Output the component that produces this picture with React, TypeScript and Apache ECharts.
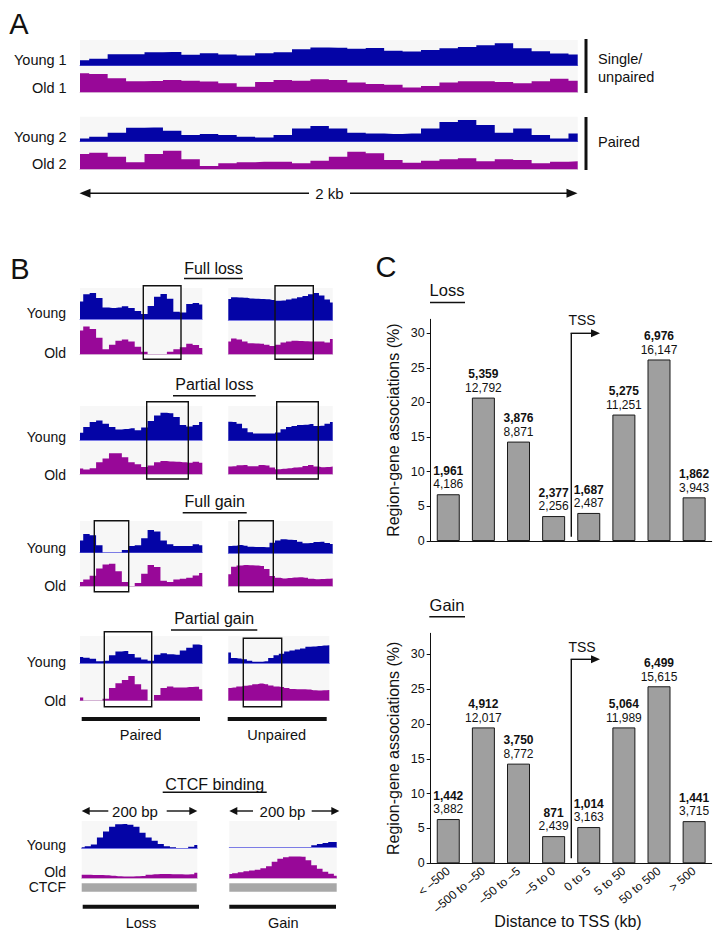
import React, { useEffect, useRef } from "react";
import * as echarts from "echarts";

// ---------- Panel C data ----------
const categories = ["< \u2013500", "\u2013500 to \u201350", "\u201350 to \u20135", "\u20135 to 0", "0 to 5", "5 to 50", "50 to 500", "> 500"];
const lossPercent = [6.75, 20.7, 14.35, 3.6, 4.05, 18.25, 26.2, 6.3];
const lossRegions = ["1,961", "5,359", "3,876", "2,377", "1,687", "5,275", "6,976", "1,862"];
const lossGenes = ["4,186", "12,792", "8,871", "2,256", "2,487", "11,251", "16,147", "3,943"];
const gainPercent = [6.35, 19.5, 14.3, 3.9, 5.2, 19.5, 25.4, 6.05];
const gainRegions = ["1,442", "4,912", "3,750", "871", "1,014", "5,064", "6,499", "1,441"];
const gainGenes = ["3,882", "12,017", "8,772", "2,439", "3,163", "11,989", "15,615", "3,715"];
const yTicks = [0, 5, 10, 15, 20, 25, 30];

// ---------- Panel A coverage (relative signal, %) ----------
const young1 = [21, 27, 45, 45, 52, 53, 43, 48, 44, 40, 48, 52, 64, 71, 70, 66, 69, 58, 55, 61, 68, 73, 80, 87, 68, 56, 47, 44];
const old1 = [74, 71, 55, 43, 44, 48, 45, 42, 35, 22, 40, 48, 45, 51, 48, 38, 32, 29, 19, 25, 38, 43, 43, 40, 35, 43, 53, 45];
const young2 = [13, 20, 36, 56, 57, 44, 27, 31, 27, 20, 17, 27, 53, 63, 53, 36, 33, 31, 33, 53, 79, 87, 67, 36, 53, 27, 13, 33];
const old2 = [60, 65, 49, 27, 60, 73, 39, 12, 23, 27, 29, 29, 23, 33, 49, 69, 63, 36, 25, 33, 39, 43, 31, 39, 36, 23, 29, 31];

// ---------- Panel B coverage ----------
const fullLossPairedYoung = [60, 85, 90, 72, 40, 38, 40, 44, 38, 28, 17, 45, 77, 86, 70, 25, 22, 52, 55, 50];
const fullLossPairedOld = [75, 88, 80, 52, 16, 30, 43, 47, 40, 24, 8, 0, 0, 0, 8, 16, 22, 33, 29, 20];
const fullLossUnpairedYoung = [70, 76, 75, 74, 72, 71, 70, 69, 67, 64, 65, 68, 72, 76, 80, 86, 90, 82, 68, 58];
const fullLossUnpairedOld = [40, 50, 47, 40, 35, 34, 33, 30, 26, 30, 37, 40, 43, 42, 41, 40, 40, 40, 37, 48];
const partialLossPairedYoung = [22, 40, 55, 60, 50, 40, 32, 34, 36, 30, 38, 58, 75, 83, 82, 70, 46, 41, 46, 55];
const partialLossPairedOld = [17, 14, 18, 36, 48, 64, 64, 52, 36, 30, 22, 26, 36, 40, 39, 38, 36, 35, 38, 35];
const partialLossUnpairedYoung = [58, 57, 52, 38, 26, 22, 22, 22, 22, 25, 35, 42, 45, 48, 49, 51, 45, 46, 52, 57];
const partialLossUnpairedOld = [23, 24, 27, 28, 24, 24, 28, 26, 20, 15, 16, 18, 20, 21, 25, 28, 23, 21, 22, 23];
const fullGainPairedYoung = [40, 62, 58, 25, 0, 0, 0, 9, 22, 25, 48, 75, 70, 40, 28, 22, 22, 22, 28, 25];
const fullGainPairedOld = [14, 22, 35, 60, 73, 76, 50, 14, 0, 10, 42, 72, 65, 18, 14, 22, 25, 28, 36, 44];
const fullGainUnpairedYoung = [24, 25, 27, 25, 22, 21, 21, 20, 35, 42, 46, 45, 44, 38, 33, 34, 37, 38, 34, 31];
const fullGainUnpairedOld = [40, 66, 70, 72, 71, 70, 68, 58, 34, 28, 26, 27, 29, 30, 28, 25, 23, 24, 25, 26];
const partialGainPairedYoung = [24, 21, 17, 8, 10, 30, 44, 46, 35, 22, 14, 10, 32, 38, 34, 32, 48, 58, 70, 68];
const partialGainPairedOld = [10, 0, 0, 0, 6, 40, 55, 65, 78, 52, 35, 0, 18, 40, 45, 42, 42, 43, 44, 36];
const partialGainUnpairedYoung = [40, 20, 18, 15, 10, 6, 6, 8, 20, 30, 36, 44, 48, 52, 55, 62, 63, 65, 67, 68];
const partialGainUnpairedOld = [40, 42, 45, 47, 49, 52, 54, 52, 48, 45, 43, 40, 37, 36, 36, 35, 33, 32, 33, 34];
const ctcfLossYoung = [4, 8, 14, 40, 63, 81, 90, 91, 88, 81, 58, 40, 28, 16, 8, 4, 0, 0, 6, 12];
const ctcfLossOld = [14, 14, 13, 13, 12, 10, 8, 7, 7, 8, 9, 14, 16, 17, 17, 16, 16, 15, 16, 22];
const ctcfGainYoung = [0, 0, 0, 0, 0, 0, 0, 0, 0, 0, 0, 0, 0, 0, 0, 8, 12, 16, 20, 20];
const ctcfGainOld = [17, 20, 24, 28, 31, 34, 40, 48, 66, 78, 84, 87, 87, 86, 72, 52, 38, 26, 18, 10];

const FONT = "'Liberation Sans', Arial, Helvetica, sans-serif";
const BLUE = "#0404a6";
const PURPLE = "#980898";
const BG = "#f7f7f7";

type Track = { data: number[]; x1: number; x2: number; top: number; base: number; scale: number; kind: "y" | "o" };

const AX1 = 80, AX2 = 577.7;
const BL1 = 80, BL2 = 202.3, BR1 = 228.3, BR2 = 332.7;

const tracks: Track[] = [
  { data: young1, x1: AX1, x2: AX2, top: 40, base: 65.7, scale: 25.7, kind: "y" },
  { data: old1, x1: AX1, x2: AX2, top: 65.7, base: 92.3, scale: 25.7, kind: "o" },
  { data: young2, x1: AX1, x2: AX2, top: 116.7, base: 141.7, scale: 25, kind: "y" },
  { data: old2, x1: AX1, x2: AX2, top: 141.7, base: 169, scale: 25, kind: "o" },

  { data: fullLossPairedYoung, x1: BL1, x2: BL2, top: 288, base: 319, scale: 29, kind: "y" },
  { data: fullLossPairedOld, x1: BL1, x2: BL2, top: 319, base: 354.3, scale: 31.7, kind: "o" },
  { data: fullLossUnpairedYoung, x1: BR1, x2: BR2, top: 288, base: 320, scale: 30, kind: "y" },
  { data: fullLossUnpairedOld, x1: BR1, x2: BR2, top: 320, base: 354.3, scale: 31.7, kind: "o" },

  { data: partialLossPairedYoung, x1: BL1, x2: BL2, top: 406, base: 440, scale: 32.7, kind: "y" },
  { data: partialLossPairedOld, x1: BL1, x2: BL2, top: 440, base: 474, scale: 32.3, kind: "o" },
  { data: partialLossUnpairedYoung, x1: BR1, x2: BR2, top: 406, base: 440.7, scale: 32.7, kind: "y" },
  { data: partialLossUnpairedOld, x1: BR1, x2: BR2, top: 440.7, base: 474, scale: 32.3, kind: "o" },

  { data: fullGainPairedYoung, x1: BL1, x2: BL2, top: 521, base: 552.7, scale: 30.3, kind: "y" },
  { data: fullGainPairedOld, x1: BL1, x2: BL2, top: 552.7, base: 586, scale: 29.3, kind: "o" },
  { data: fullGainUnpairedYoung, x1: BR1, x2: BR2, top: 521, base: 553.3, scale: 30.3, kind: "y" },
  { data: fullGainUnpairedOld, x1: BR1, x2: BR2, top: 553.3, base: 586, scale: 29.3, kind: "o" },

  { data: partialGainPairedYoung, x1: BL1, x2: BL2, top: 636, base: 663.3, scale: 26.7, kind: "y" },
  { data: partialGainPairedOld, x1: BL1, x2: BL2, top: 663.3, base: 700.7, scale: 31.7, kind: "o" },
  { data: partialGainUnpairedYoung, x1: BR1, x2: 329.3, top: 636, base: 663.3, scale: 26.7, kind: "y" },
  { data: partialGainUnpairedOld, x1: BR1, x2: 329.3, top: 663.3, base: 700.7, scale: 31.7, kind: "o" },

  { data: ctcfLossYoung, x1: 81.7, x2: 197.3, top: 821, base: 848.3, scale: 26.7, kind: "y" },
  { data: ctcfLossOld, x1: 81.7, x2: 197.3, top: 848.3, base: 878.3, scale: 25, kind: "o" },
  { data: ctcfGainYoung, x1: 229.3, x2: 336.7, top: 821, base: 847.3, scale: 26.7, kind: "y" },
  { data: ctcfGainOld, x1: 229.3, x2: 336.7, top: 847.3, base: 878.3, scale: 25, kind: "o" },
];

function txt(x: number, y: number, text: string, size: number, align = "center", weight = "normal") {
  return {
    type: "text", x, y, z: 100, silent: true,
    style: { text, fontSize: size, fontFamily: FONT, fontWeight: weight, fill: "#111", align, verticalAlign: "middle" },
  };
}
function ln(x1: number, y1: number, x2: number, y2: number, w = 1.3, color = "#111") {
  return { type: "line", z: 100, silent: true, shape: { x1, y1, x2, y2 }, style: { stroke: color, lineWidth: w } };
}
function box(x1: number, y1: number, x2: number, y2: number) {
  return { type: "rect", z: 100, silent: true, shape: { x: x1, y: y1, width: x2 - x1, height: y2 - y1 }, style: { fill: "transparent", stroke: "#111", lineWidth: 1.4 } };
}
function fillRect(x1: number, y1: number, x2: number, y2: number, color: string) {
  return { type: "rect", z: 100, silent: true, shape: { x: x1, y: y1, width: x2 - x1, height: y2 - y1 }, style: { fill: color } };
}
function head(tx: number, ty: number, dir: "l" | "r", len = 10, hw = 4) {
  const bx = dir === "r" ? tx - len : tx + len;
  return { type: "polygon", z: 100, silent: true, shape: { points: [[tx, ty], [bx, ty - hw], [bx, ty + hw]] }, style: { fill: "#111" } };
}

function buildOption() {
  const grid: any[] = [];
  const xAxis: any[] = [];
  const yAxis: any[] = [];
  const series: any[] = [];

  tracks.forEach((t, i) => {
    grid.push({ left: t.x1, width: t.x2 - t.x1, top: t.top, height: t.base - t.top, show: true, backgroundColor: BG, borderWidth: 0 });
    xAxis.push({
      gridIndex: i, type: "category", boundaryGap: false, data: t.data.map((_, k) => k),
      axisLine: { show: true, lineStyle: { color: t.kind === "y" ? "#7c7ce6" : "#d4b4d4", width: 1 } },
      axisTick: { show: false }, axisLabel: { show: false }, splitLine: { show: false },
    });
    yAxis.push({ gridIndex: i, type: "value", min: 0, max: (100 * (t.base - t.top)) / t.scale, show: false });
    series.push({
      type: "line", xAxisIndex: i, yAxisIndex: i, data: t.data, step: "middle", symbol: "none", silent: true,
      lineStyle: { width: 0, color: t.kind === "y" ? BLUE : PURPLE },
      areaStyle: { color: t.kind === "y" ? BLUE : PURPLE, opacity: 1 },
    });
  });

  const addBars = (top: number, height: number, max: number, pct: number[], regions: string[], genes: string[], showCat: boolean) => {
    const gi = grid.length;
    grid.push({ left: 430.7, width: 281, top, height, show: false });
    xAxis.push({
      gridIndex: gi, type: "category", data: categories,
      axisLine: { show: true, lineStyle: { color: "#111", width: 1 } },
      axisTick: { show: false },
      axisLabel: showCat ? { show: true, interval: 0, rotate: 40, fontSize: 12, fontFamily: FONT, color: "#111", margin: 6 } : { show: false },
      splitLine: { show: false },
    });
    yAxis.push({
      gridIndex: gi, type: "value", min: 0, max, interval: 5,
      axisLine: { show: true, lineStyle: { color: "#111", width: 1 } },
      axisTick: { show: true, length: 4, customValues: yTicks, lineStyle: { color: "#111" } },
      axisLabel: { customValues: yTicks, fontSize: 12.5, fontFamily: FONT, color: "#111", margin: 6 },
      splitLine: { show: false },
      name: "Region-gene associations (%)", nameLocation: "middle", nameRotate: 90, nameGap: 29,
      nameTextStyle: { fontSize: 16, fontFamily: FONT, color: "#111" },
    });
    series.push({
      type: "bar", xAxisIndex: gi, yAxisIndex: gi, data: pct, barWidth: 23,
      itemStyle: { color: "#9f9f9f", borderColor: "#1a1a1a", borderWidth: 1 },
      label: {
        show: true, position: "top", distance: 3,
        formatter: (p: any) => `{b|${regions[p.dataIndex]}}\n{n|${genes[p.dataIndex]}}`,
        rich: {
          b: { fontSize: 12, fontWeight: "bold", fontFamily: FONT, color: "#111", lineHeight: 13.5 },
          n: { fontSize: 12, fontFamily: FONT, color: "#111", lineHeight: 13.5 },
        },
      },
    });
  };
  addBars(319.3, 221.7, 32, lossPercent, lossRegions, lossGenes, false);
  addBars(633.3, 230, 33, gainPercent, gainRegions, gainGenes, true);

  const g: any[] = [];
  // Panel letters
  g.push(txt(19, 23.5, "A", 29), txt(20, 269, "B", 29), txt(386, 267, "C", 29));
  // Panel A labels
  g.push(txt(66.7, 60, "Young 1", 14.5, "right"), txt(66.7, 88, "Old 1", 14.5, "right"));
  g.push(txt(66.7, 137, "Young 2", 14.5, "right"), txt(66.7, 164, "Old 2", 14.5, "right"));
  g.push(fillRect(584.5, 39, 587.5, 93, "#111"), fillRect(584.5, 117, 587.5, 170, "#111"));
  g.push(txt(598, 59, "Single/", 14.5, "left"), txt(598, 76.5, "unpaired", 14.5, "left"), txt(598, 142, "Paired", 14.5, "left"));
  g.push(ln(86, 193.3, 309, 193.3, 1.5), ln(350, 193.3, 571, 193.3, 1.5), head(79.5, 193.3, "l", 11, 4.5), head(577.5, 193.3, "r", 11, 4.5));
  g.push(txt(329.5, 193.3, "2 kb", 15));

  // Panel B titles + underlines
  const titles: [string, number, number, number, number][] = [
    ["Full loss", 268, 278.5, 184, 243],
    ["Partial loss", 384.3, 395.7, 173, 255.7],
    ["Full gain", 501, 512.7, 182.7, 246.7],
    ["Partial gain", 618.3, 630, 171, 257.3],
    ["CTCF binding", 784.3, 792.3, 162.7, 266.7],
  ];
  titles.forEach(([s, ty, uy, ux1, ux2]) => {
    g.push(txt((ux1 + ux2) / 2, ty, s, 16));
    g.push(ln(ux1, uy, ux2, uy, 1.4));
  });
  // Young/Old labels
  const rowLabels: [number, number][] = [[313.3, 352.7], [436.7, 475], [548.3, 586], [661.7, 700.7]];
  rowLabels.forEach(([yy, yo]) => {
    g.push(txt(66, yy, "Young", 14, "right"), txt(66, yo, "Old", 14, "right"));
  });
  g.push(txt(66, 845, "Young", 14, "right"), txt(66, 871.7, "Old", 14, "right"), txt(66, 887.3, "CTCF", 14, "right"));
  // Boxes
  g.push(box(143.3, 285.7, 181, 359.3), box(275, 285.7, 313.3, 359.3));
  g.push(box(146.7, 401.7, 188.3, 479), box(276.7, 401.7, 318.3, 479));
  g.push(box(94.3, 520.7, 128.7, 591.7), box(238.7, 520.7, 273.3, 591.7));
  g.push(box(104.3, 631.7, 151.7, 706.7), box(243.3, 638.3, 281.7, 706.7));
  // Paired / Unpaired bars
  g.push(fillRect(81.7, 717, 200, 721, "#111"), fillRect(227.7, 717, 326.7, 721, "#111"));
  g.push(txt(140.7, 735, "Paired", 14.5), txt(276.7, 735, "Unpaired", 14.5));
  // CTCF
  g.push(ln(87, 811, 108.3, 811, 1.4), head(81.7, 811, "l", 8, 4), ln(166.7, 811, 191, 811, 1.4), head(197.3, 811, "r", 8, 4));
  g.push(txt(135, 811, "200 bp", 15));
  g.push(ln(235, 811, 253, 811, 1.4), head(229.3, 811, "l", 8, 4), ln(311.7, 811, 333, 811, 1.4), head(339.3, 811, "r", 8, 4));
  g.push(txt(282.5, 811, "200 bp", 15));
  g.push(fillRect(81.7, 883.3, 196.7, 891.7, "#a8a8a8"), fillRect(229.3, 883.3, 336.7, 891.7, "#a8a8a8"));
  g.push(fillRect(82.7, 904.7, 199, 908.7, "#111"), fillRect(229.3, 904.7, 336, 908.7, "#111"));
  g.push(txt(141, 922.7, "Loss", 14.5), txt(283.3, 922.7, "Gain", 14.5));

  // Panel C annotations
  g.push(txt(447, 290, "Loss", 16.5), ln(430, 302.5, 465, 302.5, 1.4));
  g.push(txt(447, 605, "Gain", 16.5), ln(429.3, 616.7, 465, 616.7, 1.4));
  // TSS arrows
  g.push(ln(571.3, 536.7, 571.3, 333.3, 1.4), ln(570.6, 333.3, 592, 333.3, 1.4), head(600, 333.3, "r", 9, 4), txt(582, 320, "TSS", 14));
  g.push(ln(571.3, 858.3, 571.3, 659.3, 1.4), ln(570.6, 659.3, 592, 659.3, 1.4), head(600, 659.3, "r", 9, 4), txt(582, 647, "TSS", 14));
  g.push(txt(568, 921.7, "Distance to TSS (kb)", 16));

  return {
    animation: false,
    backgroundColor: "#ffffff",
    textStyle: { fontFamily: FONT },
    grid, xAxis, yAxis, series,
    graphic: { elements: g },
  };
}

export default function App() {
  const ref = useRef<HTMLDivElement>(null);
  useEffect(() => {
    if (!ref.current) return;
    const chart = echarts.init(ref.current, undefined, { renderer: "svg" });
    chart.setOption(buildOption() as any);
    return () => chart.dispose();
  }, []);
  return <div ref={ref} style={{ position: "absolute", left: 0, top: 0, width: 721, height: 941, background: "#fff" }} />;
}
